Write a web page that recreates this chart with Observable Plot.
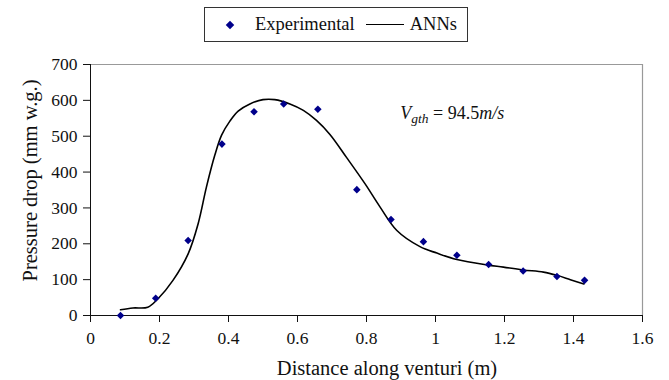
<!DOCTYPE html>
<html><head><meta charset="utf-8">
<script src="https://cdn.jsdelivr.net/npm/d3@7"></script>
<script src="https://cdn.jsdelivr.net/npm/@observablehq/plot@0.6"></script>
<style>
body{margin:0;background:#fff;font-family:'Liberation Serif',serif;}
#wrap{position:relative;width:669px;height:380px;}
#legend{position:absolute;left:204px;top:7px;width:264px;height:35px;border:1px solid #333;box-sizing:border-box;display:flex;align-items:center;font-family:'Liberation Serif',serif;font-size:18.5px;color:#111;}
#legend .dia{display:inline-block;width:6px;height:6px;background:#00008b;transform:rotate(45deg);margin-left:22px;margin-right:22px;}
#legend .ln{display:inline-block;width:38px;border-top:1.5px solid #000;margin:0 6px 0 11px;}
#chart{position:absolute;left:0;top:50px;}
#chart svg text{font-family:'Liberation Serif',serif;}
</style></head><body>
<div id="wrap">
<div id="legend"><span class="dia"></span><span>Experimental</span><span class="ln"></span><span>ANNs</span></div>
<div id="chart"></div>
</div>
<script>
const expX = [0.087, 0.189, 0.283, 0.381, 0.474, 0.560, 0.659, 0.772, 0.871, 0.965, 1.062, 1.154, 1.254, 1.352, 1.432];
const expY = [0, 48, 209, 478, 568, 590, 575, 351, 268, 206, 168, 142, 124, 109, 98];
const annX = [0.087, 0.123, 0.166, 0.195, 0.239, 0.283, 0.312, 0.336, 0.36, 0.38, 0.404, 0.428, 0.462, 0.50, 0.534, 0.578, 0.617, 0.655, 0.694, 0.742, 0.796, 0.839, 0.888, 0.955, 1.004, 1.062, 1.149, 1.197, 1.255, 1.313, 1.352, 1.391, 1.430];
const annY = [16, 21, 23, 46, 98, 172, 256, 358, 446, 503, 542, 570, 590, 602, 602, 590, 572, 544, 505, 441, 367, 303, 237, 192, 174, 156, 141, 135, 127, 121, 112, 100, 88];
const xTicks = [0, 0.2, 0.4, 0.6, 0.8, 1, 1.2, 1.4, 1.6];
const yTicks = [0, 100, 200, 300, 400, 500, 600, 700];
const xLabel = "Distance along venturi (m)";
const yLabel = "Pressure drop (mm w.g.)";
const annot = {x: 1.050, y: 548};

const expData = expX.map((x, i) => ({x, y: expY[i]}));
const annData = annX.map((x, i) => ({x, y: annY[i]}));
const fam = "'Liberation Serif', serif";
const fmt = d => String(+d.toFixed(1));

const plot = Plot.plot({
  width: 669, height: 330,
  marginLeft: 90, marginRight: 27, marginTop: 14, marginBottom: 65,
  style: {fontFamily: fam, fontSize: "17.5px", color: "#111", background: "#fff"},
  x: {domain: [0, 1.6], label: null},
  y: {domain: [0, 700], label: null},
  marks: [
    Plot.ruleY([700], {stroke: "#999", strokeWidth: 1.2}),
    Plot.ruleX([1.6], {stroke: "#999", strokeWidth: 1.2}),
    Plot.axisX({ticks: xTicks, tickFormat: fmt, tickSize: 7, tickPadding: 9, fontSize: 17.5, label: null}),
    Plot.axisY({ticks: yTicks, tickSize: 7, tickPadding: 6, fontSize: 17.5, label: null}),
    Plot.ruleX([0], {stroke: "#111"}),
    Plot.ruleY([0], {stroke: "#111"}),
    Plot.line(annData, {x: "x", y: "y", curve: "catmull-rom", stroke: "#000", strokeWidth: 1.6}),
    Plot.dot(expData, {x: "x", y: "y", symbol: "diamond2", r: 3.4, fill: "#00008b", stroke: "none"})
  ]
});
document.getElementById("chart").appendChild(plot);

const svg = d3.select(plot);
const sx = plot.scale("x"), sy = plot.scale("y");
const [x0, x1] = sx.range, [y0, y1] = sy.range; // y0 bottom, y1 top

// axis titles
svg.append("text").attr("x", (x0 + x1) / 2 + 21).attr("y", y0 + 60)
  .attr("text-anchor", "middle").style("font-family", fam).style("font-size", "20.5px").attr("fill", "#111").text(xLabel);
svg.append("text").attr("transform", `translate(${x0 - 53},${(y0 + y1) / 2 - 9}) rotate(-90)`)
  .attr("text-anchor", "middle").style("font-family", fam).style("font-size", "20.5px").attr("fill", "#111").text(yLabel);

// annotation
const t = svg.append("text")
  .attr("x", sx.apply(annot.x)).attr("y", sy.apply(annot.y))
  .style("font-family", fam).style("font-size", "18px").attr("fill", "#111");
t.append("tspan").style("font-style", "italic").text("V");
t.append("tspan").style("font-style", "italic").style("font-size", "13.5px").attr("dy", 4).text("gth");
t.append("tspan").attr("dy", -4).text(" = 94.5");
t.append("tspan").style("font-style", "italic").text("m/s");
</script>
</body></html>
